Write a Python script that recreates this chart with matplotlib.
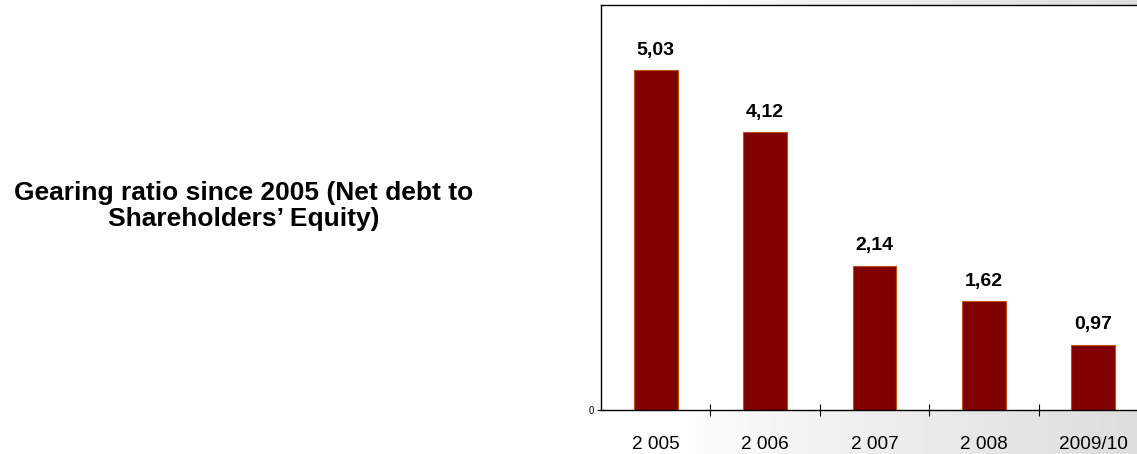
import matplotlib
matplotlib.use("Agg")
import matplotlib.pyplot as plt
import numpy as np

categories = ["2 005", "2 006", "2 007", "2 008", "2009/10"]
values = [5.03, 4.12, 2.14, 1.62, 0.97]
value_labels = ["5,03", "4,12", "2,14", "1,62", "0,97"]
title_text = "Gearing ratio since 2005 (Net debt to\nShareholders\u2019 Equity)"

plt.rcParams['font.family'] = ['Liberation Sans', 'DejaVu Sans']

fig = plt.figure(figsize=(11.37, 4.54), dpi=100)
fig.patch.set_facecolor('white')

# faint background gradient on right side
bg = fig.add_axes([0.6, 0, 0.4, 1], zorder=0)
grad = np.linspace(0, 1, 256)
img = np.ones((10, 256, 3))
shade = 1 - 0.13 * grad ** 0.8
img *= shade[None, :, None]
bg.imshow(img, aspect='auto', extent=[0, 1, 0, 1])
bg.axis('off')

ax = fig.add_axes([601 / 1137, 1 - 410 / 454, 547 / 1137, 405 / 454], zorder=1)
ax.set_facecolor('white')
x = np.arange(len(categories))
ax.bar(x, values, width=0.4, color='#800000', edgecolor='#c05010', linewidth=0.8, zorder=2)
for xi, v, lab in zip(x, values, value_labels):
    ax.annotate(lab, (xi, v), xytext=(0, 8), textcoords='offset points',
                ha='center', va='bottom', fontsize=14, fontweight='bold')

ax.set_xlim(-0.5, len(categories) - 0.5)
ax.set_ylim(0, 6)
ax.set_xticks(x)
ax.set_xticklabels(categories, fontsize=13.7)
ax.tick_params(axis='x', which='major', length=0, pad=19)
ax.set_xticks(np.arange(0.5, len(categories) - 0.5, 1), minor=True)
ax.tick_params(axis='x', which='minor', direction='inout', length=9, width=0.8)
ax.set_yticks([0])
ax.set_yticklabels(['0'], fontsize=7)
ax.tick_params(axis='y', direction='inout', length=6, width=0.8, pad=2)
for s in ax.spines.values():
    s.set_color('black')
    s.set_linewidth(1)

fig.text(244 / 1137, 1 - 206 / 454, title_text, ha='center', va='center',
         fontsize=19, fontweight='bold', linespacing=1.12)

fig.savefig('out.png', dpi=100, facecolor='white')
